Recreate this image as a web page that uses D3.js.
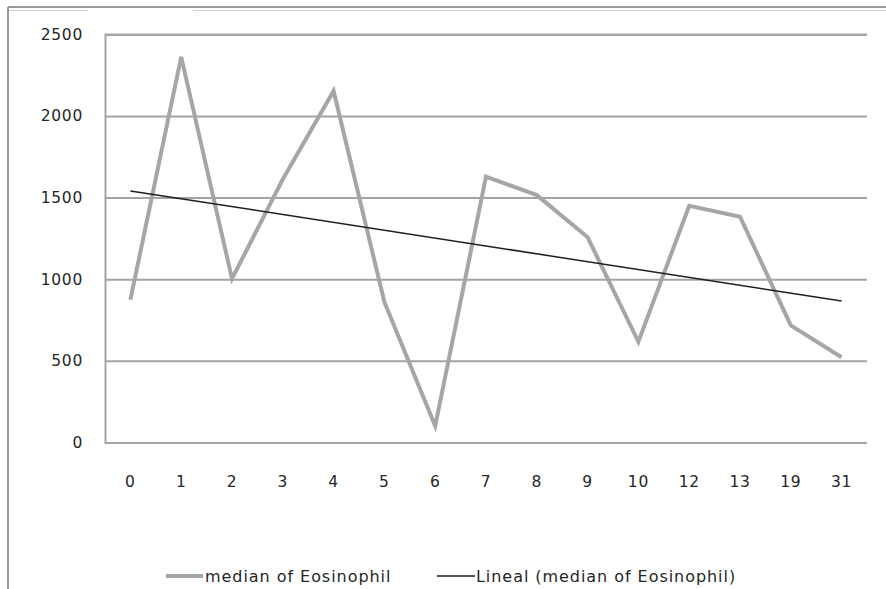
<!DOCTYPE html>
<html>
<head>
<meta charset="utf-8">
<script src="https://cdn.jsdelivr.net/npm/d3@7"></script>
<style>
  html, body { margin: 0; padding: 0; background: #fff; }
  svg { display: block; }
  text { font-family: "DejaVu Sans", Verdana, sans-serif; fill: #262626; }
</style>
</head>
<body>
<svg id="chart" width="886" height="589"></svg>
<script>
// Median eosinophil count per category
const categories = ["0", "1", "2", "3", "4", "5", "6", "7", "8", "9", "10", "12", "13", "19", "31"];
const medianEosinophil = [875, 2362, 1003, 1612, 2153, 860, 101, 1628, 1515, 1257, 617, 1450, 1383, 717, 522];
const yTicks = [0, 500, 1000, 1500, 2000, 2500];
const seriesName = "median of Eosinophil";
const trendName = "Lineal (median of Eosinophil)";

const svg = d3.select("#chart");
const margin = { left: 105, right: 19, top: 34, bottom: 146 };
const W = 886, H = 589;

const x = d3.scaleBand()
  .domain(categories)
  .range([margin.left, W - margin.right]);

const y = d3.scaleLinear()
  .domain([0, 2500])
  .range([H - margin.bottom - 0.5, margin.top + 0.3]);

const cx = c => x(c) + x.bandwidth() / 2;

// Outer frame (left and top edges)
const frame = svg.append("g");
frame.append("line").attr("x1", 8).attr("x2", W).attr("y1", 7).attr("y2", 7)
  .attr("stroke", "#7a7a7a").attr("stroke-width", 1.5);
frame.append("line").attr("x1", 8).attr("x2", 8).attr("y1", 7).attr("y2", H)
  .attr("stroke", "#7a7a7a").attr("stroke-width", 1.5);
frame.append("line").attr("x1", 9).attr("x2", 88).attr("y1", 10.5).attr("y2", 10.5)
  .attr("stroke", "#d0d0d0").attr("stroke-width", 1);
frame.append("line").attr("x1", 193).attr("x2", W).attr("y1", 10.5).attr("y2", 10.5)
  .attr("stroke", "#d0d0d0").attr("stroke-width", 1);

// Horizontal gridlines with value labels
const yAxis = d3.axisLeft(y)
  .tickValues(yTicks)
  .tickSize(-(W - margin.left - margin.right))
  .tickPadding(22)
  .tickFormat(d3.format("d"));

const gy = svg.append("g")
  .attr("transform", `translate(${margin.left},0)`)
  .call(yAxis);
gy.select(".domain").attr("stroke", "#a3a3a3").attr("stroke-width", 2);
gy.selectAll(".tick line").attr("stroke", "#a3a3a3").attr("stroke-width", 2);
gy.selectAll(".tick text")
  .style("font-family", "'DejaVu Sans', Verdana, sans-serif")
  .attr("font-size", 15.5)
  .attr("letter-spacing", 0.7)
  .attr("fill", "#262626");

// Category labels below the plot
const xAxis = d3.axisBottom(x).tickSize(0).tickPadding(33);
const gx = svg.append("g")
  .attr("transform", `translate(0,${y(0)})`)
  .call(xAxis);
gx.select(".domain").remove();
gx.selectAll(".tick text")
  .style("font-family", "'DejaVu Sans', Verdana, sans-serif")
  .attr("font-size", 15.5)
  .attr("letter-spacing", 0.7)
  .attr("fill", "#262626");

// Data series
const pts = categories.map((c, i) => ({ c, v: medianEosinophil[i] }));
const line = d3.line().x(d => cx(d.c)).y(d => y(d.v));
svg.append("path")
  .datum(pts)
  .attr("fill", "none")
  .attr("stroke", "#a6a6a6")
  .attr("stroke-width", 4)
  .attr("stroke-linejoin", "miter")
  .attr("d", line);

// Least-squares linear trend over category position (1..n)
const n = medianEosinophil.length;
const idx = d3.range(1, n + 1);
const mx = d3.mean(idx), my = d3.mean(medianEosinophil);
const slope = d3.sum(idx, (k, i) => (k - mx) * (medianEosinophil[i] - my)) /
              d3.sum(idx, k => (k - mx) * (k - mx));
const intercept = my - slope * mx;
const trend = [
  { c: categories[0], v: intercept + slope * 1 },
  { c: categories[n - 1], v: intercept + slope * n }
];
svg.append("path")
  .datum(trend)
  .attr("fill", "none")
  .attr("stroke", "#1f1f1f")
  .attr("stroke-width", 1.5)
  .attr("d", line);

// Legend
const legend = svg.append("g").attr("font-size", 16);
const legendY = 576;
legend.append("line").attr("x1", 166).attr("x2", 203).attr("y1", legendY).attr("y2", legendY)
  .attr("stroke", "#a6a6a6").attr("stroke-width", 4);
legend.append("text").attr("x", 205).attr("y", legendY).attr("dy", "0.35em")
  .attr("letter-spacing", 0.95).text(seriesName);
legend.append("line").attr("x1", 437).attr("x2", 475).attr("y1", legendY).attr("y2", legendY)
  .attr("stroke", "#1f1f1f").attr("stroke-width", 1.5);
legend.append("text").attr("x", 476).attr("y", legendY).attr("dy", "0.35em")
  .attr("letter-spacing", 0.95).text(trendName);
</script>
</body>
</html>
